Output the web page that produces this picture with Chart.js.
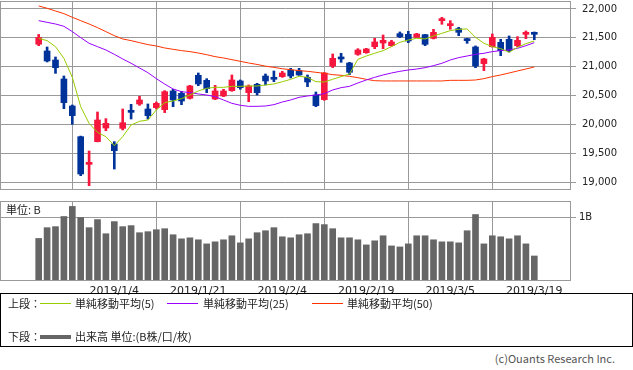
<!DOCTYPE html>
<html>
<head>
<meta charset="utf-8">
<script src="https://cdn.jsdelivr.net/npm/chart.js@4.4.1/dist/chart.umd.min.js"></script>
<style>
  body { margin: 0; background: #fff; font-family: "Noto Sans CJK JP", "Noto Sans", sans-serif; }
  #wrap { position: relative; width: 633px; height: 370px; overflow: hidden; }
  canvas { position: absolute; left: 0; }
  .txt { position: absolute; font-size: 11px; line-height: 14px; color: #222; white-space: nowrap; }
  .seg { position: absolute; height: 1px; width: 31px; }
</style>
</head>
<body>
<div id="wrap">
  <canvas id="priceChart" width="633" height="200" style="top:0"></canvas>
  <canvas id="volChart" width="633" height="105" style="top:195px"></canvas>
  <div class="txt" style="left:6px;top:202px;">単位: B</div>

  <div id="legend" style="position:absolute;left:0;top:293px;width:631px;height:52px;border:1px solid #000;">
    <div class="txt" style="left:7px;top:2px;">上段：</div>
    <div class="seg" style="left:39px;top:9px;background:#99cc00;"></div>
    <div class="txt" style="left:74px;top:2px;">単純移動平均(5)</div>
    <div class="seg" style="left:166px;top:9px;background:#9900ff;"></div>
    <div class="txt" style="left:202px;top:2px;">単純移動平均(25)</div>
    <div class="seg" style="left:311px;top:9px;background:#ff3300;"></div>
    <div class="txt" style="left:346px;top:2px;">単純移動平均(50)</div>

    <div class="txt" style="left:7px;top:35px;">下段：</div>
    <div class="seg" style="left:39px;top:41px;height:4px;background:#666;"></div>
    <div class="txt" style="left:74px;top:35px;">出来高 単位:(B株/口/枚)</div>
  </div>
  <div class="txt" style="right:18px;top:351px;color:#555;">(c)Ouants Research Inc.</div>
</div>

<script>
// 日付（取引日）
const dates = [
  '2018/12/17', '2018/12/18', '2018/12/19', '2018/12/20', '2018/12/21', '2018/12/25', '2018/12/26', '2018/12/27', '2018/12/28',
  '2019/1/4', '2019/1/7', '2019/1/8', '2019/1/9', '2019/1/10', '2019/1/11', '2019/1/15', '2019/1/16', '2019/1/17', '2019/1/18',
  '2019/1/21', '2019/1/22', '2019/1/23', '2019/1/24', '2019/1/25', '2019/1/28', '2019/1/29', '2019/1/30', '2019/1/31', '2019/2/1',
  '2019/2/4', '2019/2/5', '2019/2/6', '2019/2/7', '2019/2/8', '2019/2/12', '2019/2/13', '2019/2/14', '2019/2/15', '2019/2/18',
  '2019/2/19', '2019/2/20', '2019/2/21', '2019/2/22', '2019/2/25', '2019/2/26', '2019/2/27', '2019/2/28', '2019/3/1', '2019/3/4',
  '2019/3/5', '2019/3/6', '2019/3/7', '2019/3/8', '2019/3/11', '2019/3/12', '2019/3/13', '2019/3/14', '2019/3/15', '2019/3/18',
  '2019/3/19'
];

// 四本値
const open = [
  21390, 21273, 21117, 20788, 20321, 19790, 19311, 19704, 19940,
  19663, 19934, 20229, 20356, 20269, 20292, 20257, 20581, 20540, 20454,
  20852, 20765, 20442, 20494, 20586, 20754, 20552, 20696, 20840, 20811,
  20829, 20944, 20933, 20817, 20511, 20431, 21013, 21146, 21065, 21215,
  21244, 21348, 21411, 21365, 21573, 21561, 21510, 21556, 21492, 21798,
  21711, 21660, 21463, 21342, 21054, 21348, 21423, 21475, 21365, 21561,
  21573
];
const high = [
  21560, 21342, 21169, 20840, 20338, 19800, 19542, 20217, 20102,
  19704, 20269, 20350, 20488, 20356, 20390, 20586, 20610, 20575, 20679,
  20892, 20794, 20679, 20610, 20858, 20771, 20685, 20713, 20875, 20927,
  20921, 20973, 20973, 20858, 20563, 20900, 21221, 21233, 21077, 21313,
  21319, 21492, 21550, 21458, 21602, 21613, 21579, 21560, 21648, 21856,
  21798, 21683, 21492, 21360, 21146, 21567, 21475, 21533, 21521, 21619,
  21602
];
const low = [
  21365, 21083, 20886, 20275, 20004, 19115, 18942, 19700, 19894,
  19230, 19906, 20096, 20332, 20096, 20269, 20206, 20309, 20344, 20442,
  20673, 20552, 20431, 20483, 20575, 20610, 20396, 20511, 20685, 20742,
  20817, 20806, 20850, 20656, 20309, 20420, 20985, 21077, 20863, 21198,
  21233, 21313, 21313, 21354, 21504, 21417, 21504, 21365, 21481, 21735,
  21648, 21538, 21406, 20984, 20933, 21340, 21192, 21256, 21348, 21486,
  21469
];
const close = [
  21505, 21100, 20984, 20379, 20154, 19144, 19334, 20079, 20021,
  19548, 20032, 20211, 20425, 20154, 20367, 20569, 20425, 20407, 20667,
  20702, 20621, 20581, 20581, 20771, 20638, 20667, 20552, 20754, 20783,
  20892, 20840, 20858, 20736, 20327, 20892, 21146, 21135, 20904, 21290,
  21308, 21429, 21458, 21429, 21521, 21446, 21567, 21388, 21596, 21821,
  21735, 21596, 21452, 21013, 21135, 21510, 21279, 21279, 21458, 21573,
  21561
];

// 移動平均（チャートから読み取り）
const ma5 = [
  21492, 21452, 21348, 21146, 20817, 20309, 20021, 19865, 19790,
  19634, 19790, 19992, 20056, 20079, 20252, 20379, 20408, 20448, 20511,
  20581, 20627, 20644, 20644, 20661, 20661, 20667, 20667, 20684, 20702,
  20740, 20783, 20835, 20817, 20742, 20736, 20783, 20829, 20875, 21129,
  21186, 21233, 21279, 21348, 21423, 21463, 21492, 21481, 21533, 21579,
  21625, 21648, 21654, 21510, 21406, 21348, 21313, 21250, 21336, 21400,
  21446
];
const ma25 = [
  21798, 21769, 21740, 21700, 21608, 21504, 21406, 21348, 21290,
  21215, 21135, 21060, 20979, 20898, 20795, 20700, 20615, 20569, 20552,
  20529, 20511, 20483, 20425, 20367, 20333, 20315, 20315, 20321, 20344,
  20390, 20425, 20471, 20494, 20511, 20534, 20598, 20638, 20661, 20719,
  20771, 20817, 20858, 20892, 20921, 20944, 20961, 20984, 21019, 21060,
  21117, 21158, 21186, 21215, 21233, 21262, 21279, 21290, 21319, 21365,
  21417
];
const ma50 = [
  22052, 22012, 21965, 21919, 21856, 21798, 21740, 21677, 21608,
  21538, 21481, 21452, 21417, 21383, 21360, 21325, 21302, 21279, 21262,
  21238, 21209, 21175, 21152, 21123, 21094, 21065, 21040, 21010, 20990,
  20965, 20950, 20933, 20921, 20904, 20886, 20863, 20852, 20834, 20811,
  20782, 20759, 20754, 20754, 20754, 20754, 20754, 20754, 20754, 20754,
  20765, 20765, 20765, 20771, 20794, 20829, 20858, 20892, 20927, 20961,
  20996
];

// 出来高（単位: B）
const volume = [
  0.667, 0.836, 0.852, 1.011, 1.169, 0.995, 0.836, 0.963, 0.741,
  0.931, 0.852, 0.868, 0.757, 0.773, 0.804, 0.820, 0.725, 0.661, 0.677,
  0.646, 0.582, 0.614, 0.646, 0.709, 0.598, 0.661, 0.757, 0.788, 0.836,
  0.693, 0.677, 0.725, 0.741, 0.900, 0.884, 0.820, 0.677, 0.677, 0.646,
  0.566, 0.630, 0.709, 0.550, 0.534, 0.582, 0.709, 0.709, 0.646, 0.614,
  0.614, 0.598, 0.788, 1.042, 0.582, 0.709, 0.693, 0.661, 0.709, 0.582,
  0.392
];

// 目盛
const tickDates = ['2019/1/4', '2019/1/21', '2019/2/4', '2019/2/19', '2019/3/5', '2019/3/19'];
const priceTicks = [19000, 19500, 20000, 20500, 21000, 21500, 22000];
const volTicks = [1];

const UP = '#f5173e';
const DOWN = '#003399';
const GRID = '#999999';
const X_MIN = -4.607;
const X_MAX = 63.369;

const xy = arr => arr.map((v, i) => ({ x: i, y: v }));
const candleColor = dates.map((d, i) => close[i] >= open[i] ? UP : DOWN);

// 枠線
const frame = {
  id: 'frame',
  afterDraw(chart) {
    const { ctx, chartArea: a } = chart;
    ctx.save();
    ctx.strokeStyle = GRID;
    ctx.lineWidth = 1;
    ctx.strokeRect(Math.round(a.left) + 0.5, Math.round(a.top) + 0.5,
      Math.round(a.right - a.left) - 1, Math.round(a.bottom - a.top) - 1);
    ctx.restore();
  }
};

// 目盛ラベル分の余白を付けない
function noPad(s) {
  s.paddingTop = 0;
  s.paddingBottom = 0;
  s.paddingLeft = 0;
  s.paddingRight = 0;
}

function xScale(showLabels) {
  return {
    type: 'linear',
    min: X_MIN,
    max: X_MAX,
    offset: false,
    afterBuildTicks: s => { s.ticks = tickDates.map(d => ({ value: dates.indexOf(d) })); },
    afterFit: s => { s.height = showLabels ? 14 : 0; noPad(s); },
    grid: { color: GRID, drawTicks: false },
    border: { display: false },
    ticks: {
      display: showLabels,
      autoSkip: false,
      maxRotation: 0,
      padding: 4,
      color: '#222',
      font: { family: 'DejaVu Sans', size: 11 },
      callback: v => dates[v]
    }
  };
}

// 上段：ローソク足
new Chart(document.getElementById('priceChart').getContext('2d'), {
  type: 'bar',
  data: {
    datasets: [
      { type: 'line', data: xy(ma5), borderColor: '#99cc00', borderWidth: 1, pointRadius: 0, order: 0 },
      { type: 'line', data: xy(ma25), borderColor: '#9900ff', borderWidth: 1, pointRadius: 0, order: 0 },
      { type: 'line', data: xy(ma50), borderColor: '#ff3300', borderWidth: 1, pointRadius: 0, order: 0 },
      {
        data: dates.map((d, i) => ({ x: i, y: [open[i], close[i]] })),
        backgroundColor: candleColor, barThickness: 6, minBarLength: 2, grouped: false, order: 1
      },
      {
        data: dates.map((d, i) => ({ x: i, y: [low[i], high[i]] })),
        backgroundColor: candleColor, barThickness: 2, grouped: false, order: 2
      }
    ]
  },
  options: {
    responsive: false,
    animation: false,
    devicePixelRatio: 1,
    layout: { padding: { left: 0, right: 0, top: 1, bottom: 10 } },
    plugins: { legend: { display: false }, tooltip: { enabled: false } },
    scales: {
      x: xScale(false),
      y: {
        position: 'right',
        min: 18867,
        max: 22138,
        afterBuildTicks: s => { s.ticks = priceTicks.map(v => ({ value: v })); },
        afterFit: s => { s.width = 62; noPad(s); },
        grid: { color: GRID, tickLength: 5 },
        border: { display: false },
        ticks: {
          padding: 6,
          color: '#222',
          font: { family: 'DejaVu Sans', size: 10 },
          callback: v => v.toLocaleString('en-US')
        }
      }
    }
  },
  plugins: [frame]
});

// 下段：出来高
new Chart(document.getElementById('volChart').getContext('2d'), {
  type: 'bar',
  data: {
    datasets: [
      { data: xy(volume), backgroundColor: '#666666', barThickness: 6 }
    ]
  },
  options: {
    responsive: false,
    animation: false,
    devicePixelRatio: 1,
    layout: { padding: { left: 0, right: 0, top: 6, bottom: 5 } },
    plugins: { legend: { display: false }, tooltip: { enabled: false } },
    scales: {
      x: xScale(true),
      y: {
        position: 'right',
        min: 0,
        max: 1.254,
        afterBuildTicks: s => { s.ticks = volTicks.map(v => ({ value: v })); },
        afterFit: s => { s.width = 62; noPad(s); },
        grid: { color: GRID, tickLength: 5 },
        border: { display: false },
        ticks: {
          padding: 3,
          color: '#222',
          font: { family: 'DejaVu Sans', size: 10 },
          callback: v => v + 'B'
        }
      }
    }
  },
  plugins: [frame]
});
</script>
</body>
</html>
